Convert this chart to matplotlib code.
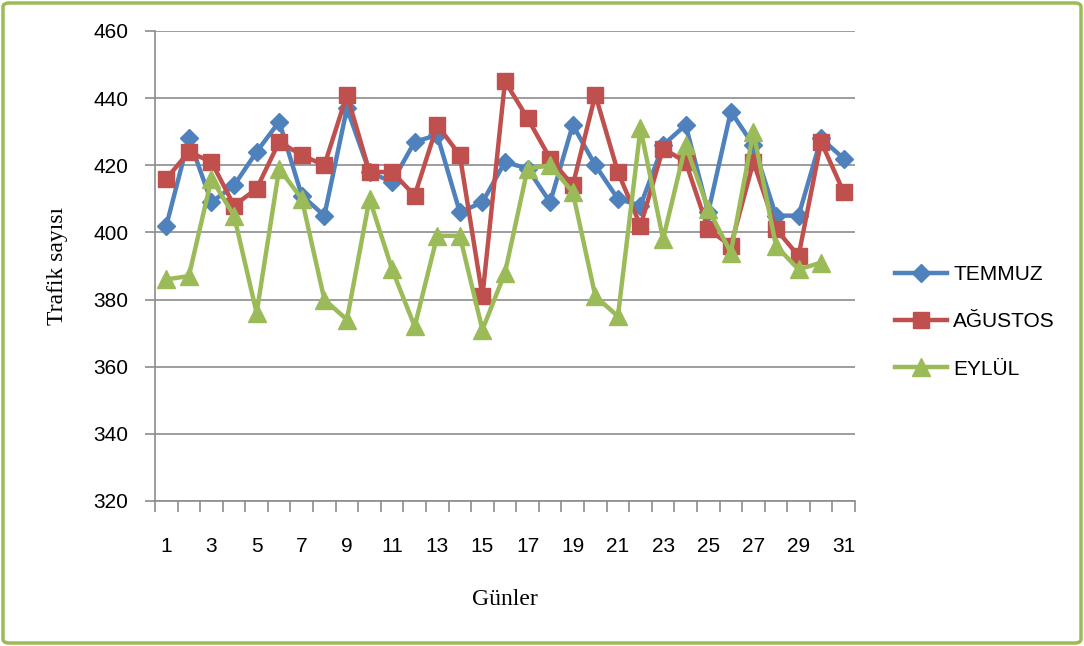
import matplotlib
matplotlib.use("Agg")
import matplotlib.pyplot as plt
from matplotlib.patches import FancyBboxPatch
import numpy as np

days = list(range(1, 32))

temmuz = [402, 428, 409, 414, 424, 433, 411, 405, 437, 418,
          415, 427, 429, 406, 409, 421, 419, 409, 432, 420,
          410, 408, 426, 432, 406, 436, 426, 405, 405, 428, 422]
agustos = [416, 424, 421, 408, 413, 427, 423, 420, 441, 418,
           418, 411, 432, 423, 381, 445, 434, 422, 414, 441,
           418, 402, 425, 421, 401, 396, 421, 401, 393, 427, 412]
eylul = [386, 387, 416, 405, 376, 419, 410, 380, 374, 410,
         389, 372, 399, 399, 371, 388, 419, 420, 412, 381,
         375, 431, 398, 426, 407, 394, 430, 396, 389, 391]

series_names = ["TEMMUZ", "AĞUSTOS", "EYLÜL"]
y_ticks = list(range(320, 461, 20))
x_tick_labels = [str(d) for d in range(1, 32, 2)]

colors = ["#4F81BD", "#C0504D", "#9BBB59"]
grid_color = "#8C8C8C"
tick_font = {"family": "Liberation Sans", "size": 15}

fig = plt.figure(figsize=(10.84, 6.46), dpi=100)
ax = fig.add_axes([155 / 1084, 1 - 501 / 646, 700 / 1084, 470 / 646])

ax.plot(days, temmuz, color=colors[0], lw=3.2, marker="D", ms=9,
        label=series_names[0], zorder=3)
ax.plot(days, agustos, color=colors[1], lw=3.2, marker="s", ms=12,
        label=series_names[1], zorder=4)
ax.plot(days[:len(eylul)], eylul, color=colors[2], lw=3.2, marker="^", ms=13,
        label=series_names[2], zorder=5)

ax.set_xlim(0.5, 31.5)
ax.set_ylim(320, 460)
ax.set_yticks(y_ticks)
ax.set_yticklabels([str(v) for v in y_ticks], fontdict=tick_font)
ax.yaxis.grid(True, color=grid_color, lw=1.2)
ax.set_axisbelow(True)

# category labels on odd days, tick marks between categories
ax.set_xticks(list(range(1, 32, 2)))
ax.set_xticklabels(x_tick_labels, fontdict=tick_font)
ax.tick_params(axis="x", which="major", length=0, pad=26)
ax.set_xticks(np.arange(0.5, 32, 1.0), minor=True)
ax.tick_params(axis="x", which="minor", length=8, color=grid_color, width=1.2)
ax.tick_params(axis="y", length=7, color=grid_color, width=1.2, pad=12)

for side in ["top", "right"]:
    ax.spines[side].set_visible(False)
for side in ["left", "bottom"]:
    ax.spines[side].set_color(grid_color)
    ax.spines[side].set_linewidth(1.2)

ax.set_ylabel("Trafik sayısı", fontsize=17, family="Liberation Serif",
              labelpad=18)
ax.set_xlabel("Günler", fontsize=17, family="Liberation Serif", labelpad=24)

leg = ax.legend(loc="center left", bbox_to_anchor=(1.03, 0.381),
                frameon=False, prop={"family": "Liberation Sans", "size": 15},
                handlelength=2.5, labelspacing=1.35, handletextpad=0.3)

border = FancyBboxPatch((3 / 1084, 3 / 646), 1078 / 1084, 640 / 646,
                        boxstyle="round,pad=0,rounding_size=0.006",
                        transform=fig.transFigure, fill=False,
                        edgecolor="#9BBB59", lw=2.5)
fig.patches.append(border)

fig.savefig("out.png", dpi=100, facecolor="white")
